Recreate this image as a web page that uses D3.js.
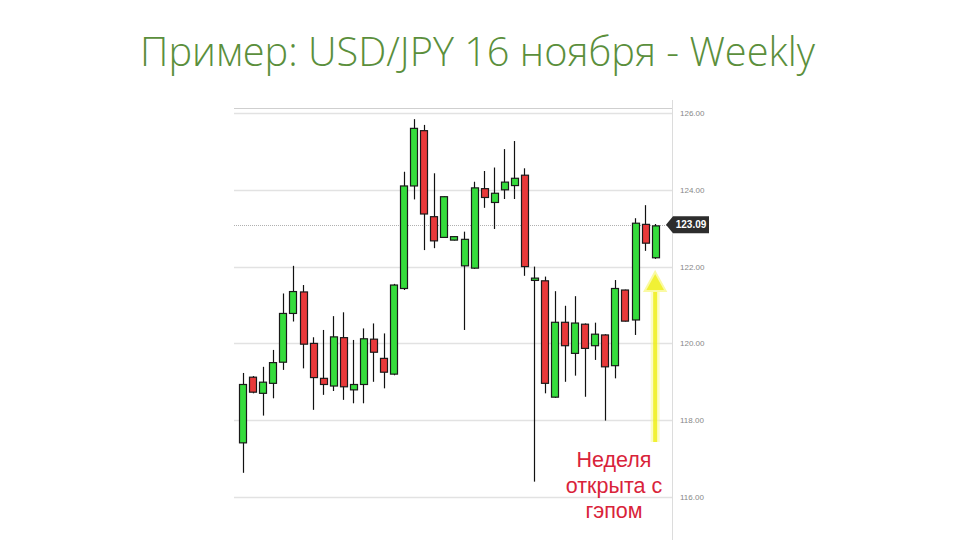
<!DOCTYPE html>
<html><head><meta charset="utf-8">
<script src="https://cdn.jsdelivr.net/npm/d3@7"></script>
<style>body{margin:0;background:#fff;overflow:hidden}</style>
</head><body>
<svg id="chart" width="960" height="540"></svg>
<script>
// ---- data (weekly USD/JPY candles) ----
const weeks = ["2015-02-02","2015-02-09","2015-02-16","2015-02-23","2015-03-02","2015-03-09","2015-03-16","2015-03-23","2015-03-30","2015-04-06","2015-04-13","2015-04-20","2015-04-27","2015-05-04","2015-05-11","2015-05-18","2015-05-25","2015-06-01","2015-06-08","2015-06-15","2015-06-22","2015-06-29","2015-07-06","2015-07-13","2015-07-20","2015-07-27","2015-08-03","2015-08-10","2015-08-17","2015-08-24","2015-08-31","2015-09-07","2015-09-14","2015-09-21","2015-09-28","2015-10-05","2015-10-12","2015-10-19","2015-10-26","2015-11-02","2015-11-09","2015-11-16"];
const openP  = [117.41,119.12,118.70,118.96,119.51,120.78,121.34,120.00,119.09,118.89,120.15,118.79,118.93,120.11,119.61,119.20,121.43,124.10,125.54,123.30,122.76,122.69,122.02,121.96,124.03,123.67,124.00,124.11,124.38,121.64,121.63,118.60,120.55,119.74,120.50,119.94,120.22,119.42,121.39,120.61,123.10,122.23];
const highP  = [119.23,119.15,119.39,119.83,121.30,122.02,121.52,120.16,120.35,120.71,120.81,120.09,120.39,120.52,120.26,121.55,124.47,125.84,125.69,124.43,123.83,122.79,122.91,124.21,124.49,124.58,125.06,125.27,124.56,122.00,121.74,121.36,120.98,121.23,120.52,120.54,120.24,121.65,121.40,123.26,123.60,123.11];
const lowP   = [116.63,118.70,118.12,118.57,119.31,120.57,119.35,118.27,118.66,118.76,118.53,118.44,118.44,119.00,118.83,119.17,121.39,123.75,122.43,122.48,122.75,122.68,120.35,121.94,123.53,122.98,123.76,123.76,121.76,116.40,118.70,118.58,119.00,119.16,118.61,119.57,117.99,119.09,120.57,120.22,122.41,122.20];
const closeP = [118.93,118.73,118.99,119.50,120.78,121.35,119.98,119.11,118.93,120.17,118.87,118.93,120.12,119.77,119.25,121.52,124.10,125.60,123.37,122.67,123.82,122.78,122.71,124.05,123.80,123.91,124.20,124.30,122.00,121.70,118.96,120.55,119.94,120.53,119.87,120.24,119.39,121.43,120.58,123.13,122.61,123.06];
const tickValues = [126,124,122,120,118,116];
const lastPrice = 123.09;
const titleText = "Пример: USD/JPY 16 ноября - Weekly";
const noteLines = ["Неделя","открыта с","гэпом"];

const candles = weeks.map((w,i)=>({w, o:openP[i], h:highP[i], l:lowP[i], c:closeP[i]}));

const svg = d3.select("#chart");

// ---- title ----
const title = svg.append("text")
  .attr("x", 477.5).attr("y", 66)
  .attr("text-anchor","middle")
  .attr("fill","#5b8f3c")
  .style("font-family","'Open Sans','Noto Sans',sans-serif")
  .style("font-weight","300")
  .style("font-size","36px")
  .text(titleText);
const tw = title.node().getComputedTextLength();
title.style("font-size", (36*675/tw).toFixed(2)+"px");

// ---- scales ----
const plotL = 234, plotR = 672;
const y = d3.scaleLinear().domain([116,126]).range([497,113]);
const x = d3.scaleBand().domain(weeks).range([237.67, 660.2]).paddingInner(0.3).paddingOuter(0.15);

// frame lines
svg.append("line").attr("x1",plotL).attr("x2",plotR).attr("y1",108.5).attr("y2",108.5)
  .attr("stroke","#cfcfcf").attr("stroke-width",1);
svg.append("line").attr("x1",plotR+0.5).attr("x2",plotR+0.5).attr("y1",100).attr("y2",540)
  .attr("stroke","#dcdcdc").attr("stroke-width",1);

// gridlines
svg.append("g").selectAll("line").data(tickValues).join("line")
  .attr("x1",plotL).attr("x2",plotR)
  .attr("y1",d=>Math.round(y(d))+0.5).attr("y2",d=>Math.round(y(d))+0.5)
  .attr("stroke","#e2e2e2").attr("stroke-width",1.5);

// right axis labels
const axis = d3.axisRight(y).tickValues(tickValues).tickFormat(d3.format(".2f")).tickSize(0).tickPadding(8);
const ag = svg.append("g").attr("transform",`translate(${plotR},0)`).call(axis);
ag.select(".domain").remove();
ag.selectAll("text").attr("fill","#888").style("font-family","'Liberation Sans',Arial,sans-serif").style("font-size","8px");

// last price dotted line
svg.append("line").attr("x1",plotL).attr("x2",plotR)
  .attr("y1",Math.round(y(lastPrice))+0.5).attr("y2",Math.round(y(lastPrice))+0.5)
  .attr("stroke","#b0b0b0").attr("stroke-width",1).attr("stroke-dasharray","1,1");

// ---- candles ----
const cg = svg.append("g");
const cx = d=>x(d.w)+x.bandwidth()/2;
cg.selectAll("line.wick").data(candles).join("line").attr("class","wick")
  .attr("x1",d=>Math.round(cx(d))+0.5).attr("x2",d=>Math.round(cx(d))+0.5)
  .attr("y1",d=>y(d.h)).attr("y2",d=>y(d.l))
  .attr("stroke","#111").attr("stroke-width",1.2);
cg.selectAll("rect.body").data(candles).join("rect").attr("class","body")
  .attr("x",d=>Math.round(x(d.w))+0.5)
  .attr("width",Math.round(x.bandwidth()))
  .attr("y",d=>y(Math.max(d.o,d.c)))
  .attr("height",d=>Math.max(2,Math.abs(y(d.o)-y(d.c))))
  .attr("fill",d=>d.c>=d.o?"#35dc3c":"#e8393a")
  .attr("stroke","#1a1a1a").attr("stroke-width",1.2);

// ---- last price tag ----
const ly = y(lastPrice);
const tag = svg.append("g");
tag.append("path")
  .attr("d",`M${plotR-6},${ly} L${plotR+1},${ly-8.5} L${plotR+37},${ly-8.5} L${plotR+37},${ly+8.5} L${plotR+1},${ly+8.5} Z`)
  .attr("fill","#2d2d2d");
tag.append("text").attr("x",plotR+19).attr("y",ly+3.5).attr("text-anchor","middle")
  .attr("fill","#fff").style("font-family","'Liberation Sans',Arial,sans-serif")
  .style("font-size","10px").style("font-weight","bold")
  .text(d3.format(".2f")(lastPrice));

// ---- yellow arrow ----
const ax = cx(candles[candles.length-1]);
const arrowTop = y(lowP[lowP.length-1]) + 13;
const ag2 = svg.append("g").attr("opacity",0.9);
ag2.append("line").attr("x1",ax).attr("x2",ax).attr("y1",arrowTop+15).attr("y2",442)
  .attr("stroke","#fbfb9a").attr("stroke-width",9).attr("opacity",0.6);
ag2.append("line").attr("x1",ax).attr("x2",ax).attr("y1",arrowTop+15).attr("y2",442)
  .attr("stroke","#f0f020").attr("stroke-width",4);
ag2.append("path")
  .attr("d",`M${ax},${arrowTop} L${ax+10.5},${arrowTop+19} L${ax-10.5},${arrowTop+19} Z`)
  .attr("fill","#f0f020").attr("stroke","#fafa9a").attr("stroke-width",2);

// ---- annotation ----
svg.append("g").selectAll("text").data(noteLines).join("text")
  .attr("x",614).attr("y",(d,i)=>467+i*25.5)
  .attr("text-anchor","middle")
  .attr("fill","#d9233a")
  .style("font-family","'Liberation Sans',Arial,sans-serif")
  .style("font-size","21.5px")
  .text(d=>d);
</script>
</body></html>
